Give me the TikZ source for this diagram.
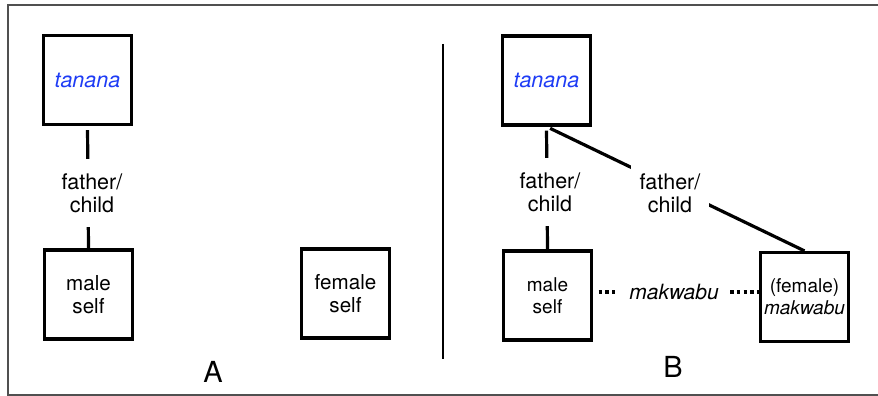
\documentclass[tikz,border=0pt]{standalone}
\usepackage{fontspec}
\setmainfont{TeX Gyre Heros}
\definecolor{termblue}{RGB}{30,60,245}
\definecolor{framegrey}{RGB}{80,80,80}
\begin{document}
\begin{tikzpicture}[x=1pt,y=-1pt,
  kinbox/.style={draw, line width=3.2pt, minimum width=88pt, minimum height=89pt,
    inner sep=0pt, align=center, font=\fontsize{20.6}{23}\selectfont},
  tie/.style={line width=3.2pt},
  dots/.style={line width=3.4pt, dash pattern=on 3.3pt off 3.4pt},
  rel/.style={fill=white, inner sep=0pt, align=center, font=\fontsize{21.5}{23}\selectfont},
  panel/.style={font=\fontsize{29}{32}\selectfont}]
\useasboundingbox (0,0) rectangle (878,396);

% outer frame, open on the right
\draw[framegrey, line width=1.5pt] (882,5) -- (8,5) -- (8,395) -- (882,395);
% divider between the two panels
\draw[line width=1.6pt] (443,44) -- (443,359);

% panel A
\node[kinbox, font=\fontsize{21.5}{23}\selectfont] (tA) at (87.5,80) {\textcolor{termblue}{\itshape tanana}};
\node[kinbox] (mA) at (88.5,294.5) {male\\self};
\node[kinbox] (fA) at (345.5,293.5) {female\\self};
\draw[tie, shorten <=4pt] (tA.south) -- (mA.north);
\node[rel, minimum width=74pt, minimum height=68pt] (pcA) at (92,193) {father/\\child};
\node[panel] (lA) at (213,372) {A};

% panel B
\node[kinbox, font=\fontsize{21.5}{23}\selectfont] (tB) at (546.5,80.5) {\textcolor{termblue}{\itshape tanana}};
\node[kinbox, font=\fontsize{19}{22}\selectfont] (mB) at (547.5,295.5) {male\\self};
\node[kinbox, font=\fontsize{19}{22}\selectfont] (fB) at (804.5,297) {(female)\\\textit{makwabu}};
\draw[tie, shorten <=4pt] (tB.south) -- (mB.north);
\draw[tie, shorten <=4pt] (tB.south) -- (fB.north);
\node[rel, minimum width=74pt, minimum height=68pt] (pcB) at (550,192) {father/\\child};
\node[rel, minimum width=78pt, minimum height=56pt] (pcC) at (670,193) {father/\\child};

\node[rel, minimum width=112pt, font=\fontsize{21}{23}\selectfont\itshape] (mk) at (674,292) {makwabu};
\draw[dots, shorten <=5.5pt] (mB.east |- mk.west) -- (mk.west);
\draw[dots] (mk.east) -- (fB.west |- mk.east);
\node[panel] (lB) at (673,367) {B};
\end{tikzpicture}
\end{document}
